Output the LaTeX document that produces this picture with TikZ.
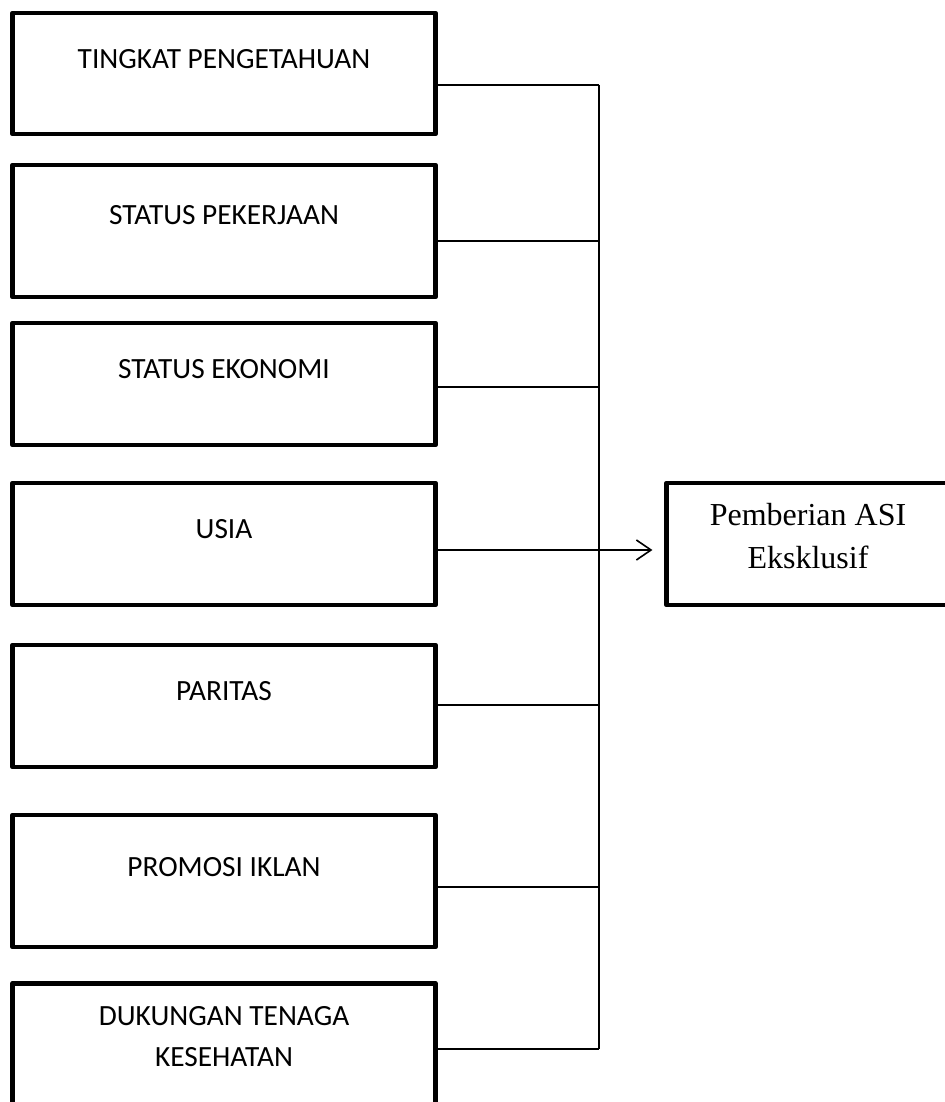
\documentclass[tikz,border=0pt]{standalone}
\usepackage{fontspec}
\setmainfont{Liberation Serif}
\newfontfamily\calibri{Carlito}
\usepackage{tikz}
\usetikzlibrary{arrows.meta,positioning,calc}

\tikzset{
  factor/.style={draw, line width=3.6pt, line join=round, minimum width=317pt, inner sep=0pt},
  factortext/.style={font=\calibri\fontsize{22pt}{31.3pt}\selectfont, align=center, inner sep=0pt},
  outcome/.style={draw, line width=3.6pt, line join=round, minimum width=220pt, minimum height=91.5pt, inner sep=0pt},
  outcometext/.style={font=\fontsize{24pt}{32.3pt}\selectfont, align=center, inner sep=0pt},
  link/.style={line width=1.2pt}
}

\begin{document}
\begin{tikzpicture}[x=0.75pt,y=-0.75pt]
\useasboundingbox (0,0) rectangle (945,1102);
\clip (0,0) rectangle (945,1102);
% factors
\node[factor, minimum height=90.75pt] (b1) at (224,73.5) {};
\node[factor, minimum height=99pt] (b2) at (224,231) {};
\node[factor, minimum height=91.5pt] (b3) at (224,384) {};
\node[factor, minimum height=91.5pt] (b4) at (224,544) {};
\node[factor, minimum height=91.5pt] (b5) at (224,706) {};
\node[factor, minimum height=99pt] (b6) at (224,881) {};
\node[factor, minimum height=95pt] (b7) at (224,1046.5) {};
\node[factortext] (t1) at (224,59) {TINGKAT PENGETAHUAN};
\node[factortext] (t2) at (224,215.5) {STATUS PEKERJAAN};
\node[factortext] (t3) at (224,369) {STATUS EKONOMI};
\node[factortext] (t4) at (224,529) {USIA};
\node[factortext] (t5) at (224,691.5) {PARITAS};
\node[factortext] (t6) at (224,867) {PROMOSI IKLAN};
\node[factortext] (t7) at (224,1036.5) {DUKUNGAN TENAGA\\KESEHATAN};
% outcome
\node[outcome] (out) at (813.5,544) {};
\node[outcometext] (outtext) at (808,536.5) {Pemberian ASI\\Eksklusif};
% junctions on the collecting line
\coordinate (j1) at (599,85);
\coordinate (j2) at (599,241);
\coordinate (j3) at (599,387);
\coordinate (j4) at (599,550);
\coordinate (j5) at (599,705);
\coordinate (j6) at (599,887);
\coordinate (j7) at (599,1049);
\draw[link] (j1 -| b1.east) -- (j1);
\draw[link] (j2 -| b2.east) -- (j2);
\draw[link] (j3 -| b3.east) -- (j3);
\draw[link] (j4 -| b4.east) -- (j4);
\draw[link] (j5 -| b5.east) -- (j5);
\draw[link] (j6 -| b6.east) -- (j6);
\draw[link] (j7 -| b7.east) -- (j7);
\draw[link] (j1) -- (j7);
\draw[link, -{Straight Barb[length=11pt,width=15pt]}, shorten >=9pt] (j4) -- (j4 -| out.west);
\end{tikzpicture}
\end{document}
